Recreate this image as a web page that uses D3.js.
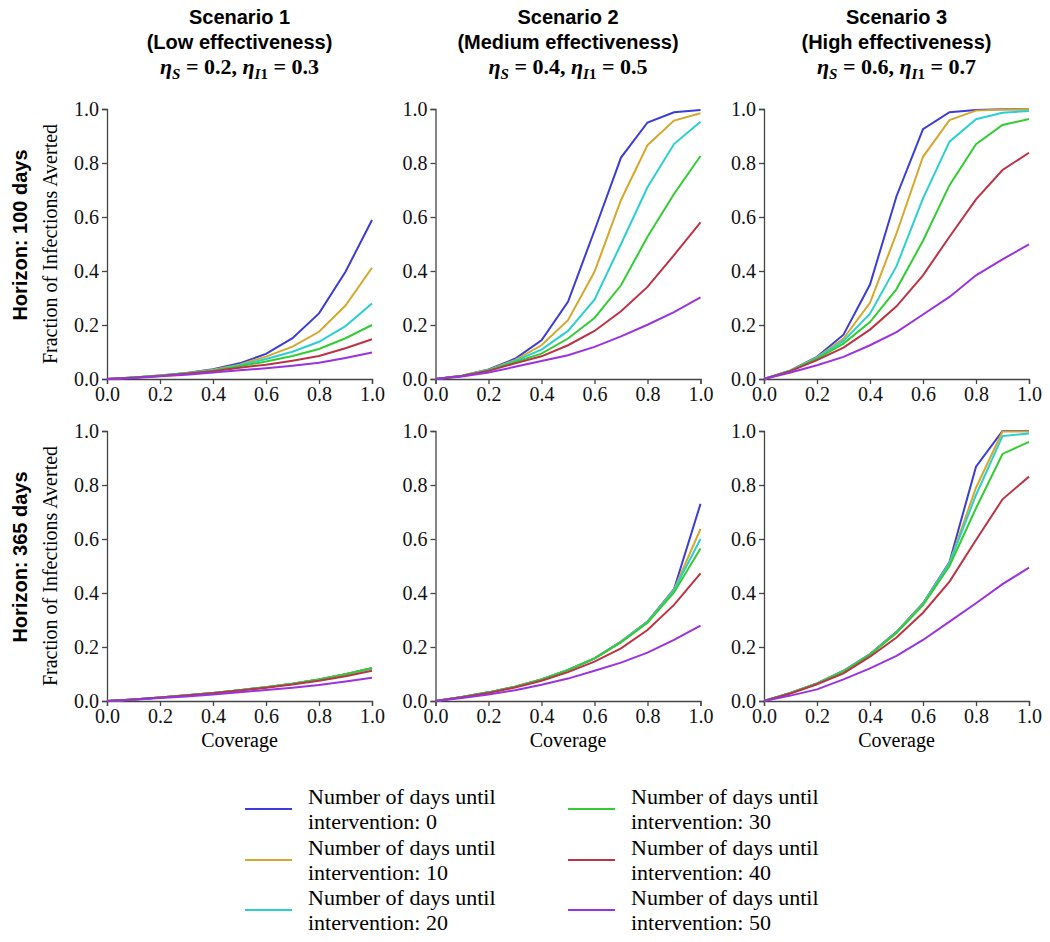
<!DOCTYPE html>
<html>
<head>
<meta charset="utf-8">
<script src="https://cdn.jsdelivr.net/npm/d3@7"></script>
<style>
  body { margin: 0; background: #fff; }
  .tick text { font-family: "Liberation Serif", serif; font-size: 20px; fill: #111; }
  .tick line, .domain { stroke: #444; stroke-width: 1.3; }
</style>
</head>
<body>
<script>
// coverage values on the x axis
var coverage = [0, 0.1, 0.2, 0.3, 0.4, 0.5, 0.6, 0.7, 0.8, 0.9, 1.0];

// days until intervention, one line per value
var delays = [0, 10, 20, 30, 40, 50];
var colors = ['#3c3cd6', '#d4a82c', '#2ccfcf', '#33cc33', '#bb3344', '#9a33dd'];

var scenarioNames = ['Scenario 1', 'Scenario 2', 'Scenario 3'];
var scenarioLevels = ['(Low effectiveness)', '(Medium effectiveness)', '(High effectiveness)'];
var etaS = ['0.2', '0.4', '0.6'];
var etaI1 = ['0.3', '0.5', '0.7'];
var horizons = ['Horizon: 100 days', 'Horizon: 365 days'];

var yTicks = [0, 0.2, 0.4, 0.6, 0.8, 1.0];
var xTicks = [0, 0.2, 0.4, 0.6, 0.8, 1.0];

// fraction of infections averted, horizon 100 days (rows = delays 0..50)
var s1h100 = [
  [0, 0.006, 0.013, 0.022, 0.036, 0.058, 0.093, 0.151, 0.243, 0.397, 0.589],
  [0, 0.006, 0.013, 0.021, 0.034, 0.053, 0.083, 0.120, 0.175, 0.272, 0.412],
  [0, 0.006, 0.012, 0.021, 0.032, 0.050, 0.074, 0.101, 0.138, 0.196, 0.280],
  [0, 0.006, 0.012, 0.020, 0.031, 0.047, 0.065, 0.085, 0.111, 0.151, 0.200],
  [0, 0.005, 0.011, 0.019, 0.029, 0.042, 0.053, 0.068, 0.085, 0.114, 0.147],
  [0, 0.004, 0.010, 0.016, 0.024, 0.032, 0.040, 0.049, 0.060, 0.078, 0.098]
];
var s2h100 = [
  [0, 0.012, 0.035, 0.075, 0.143, 0.286, 0.550, 0.820, 0.950, 0.988, 0.996],
  [0, 0.012, 0.034, 0.070, 0.125, 0.218, 0.397, 0.663, 0.866, 0.957, 0.984],
  [0, 0.012, 0.033, 0.067, 0.109, 0.178, 0.294, 0.500, 0.710, 0.870, 0.953],
  [0, 0.011, 0.032, 0.063, 0.094, 0.150, 0.226, 0.347, 0.527, 0.685, 0.826],
  [0, 0.011, 0.030, 0.058, 0.084, 0.125, 0.178, 0.251, 0.341, 0.459, 0.580],
  [0, 0.009, 0.024, 0.045, 0.067, 0.088, 0.119, 0.158, 0.201, 0.248, 0.302]
];
var s3h100 = [
  [0, 0.032, 0.082, 0.164, 0.350, 0.677, 0.925, 0.988, 0.996, 0.999, 0.999],
  [0, 0.031, 0.080, 0.150, 0.282, 0.539, 0.823, 0.959, 0.994, 0.998, 0.999],
  [0, 0.031, 0.078, 0.141, 0.242, 0.418, 0.669, 0.879, 0.962, 0.986, 0.993],
  [0, 0.030, 0.075, 0.131, 0.211, 0.333, 0.512, 0.718, 0.870, 0.941, 0.963],
  [0, 0.029, 0.070, 0.116, 0.183, 0.269, 0.384, 0.527, 0.665, 0.774, 0.838],
  [0, 0.024, 0.051, 0.082, 0.125, 0.174, 0.239, 0.304, 0.384, 0.443, 0.499]
];

// horizon 365 days
var s1h365 = [
  [0, 0.006, 0.013, 0.021, 0.030, 0.040, 0.051, 0.064, 0.080, 0.099, 0.121],
  [0, 0.006, 0.013, 0.021, 0.030, 0.040, 0.051, 0.064, 0.080, 0.099, 0.121],
  [0, 0.006, 0.013, 0.021, 0.030, 0.040, 0.051, 0.064, 0.080, 0.099, 0.121],
  [0, 0.006, 0.013, 0.021, 0.030, 0.040, 0.051, 0.064, 0.080, 0.099, 0.122],
  [0, 0.006, 0.013, 0.020, 0.029, 0.039, 0.049, 0.061, 0.075, 0.092, 0.112],
  [0, 0.005, 0.011, 0.017, 0.024, 0.032, 0.041, 0.049, 0.059, 0.072, 0.086]
];
var s2h365 = [
  [0, 0.015, 0.032, 0.053, 0.080, 0.115, 0.158, 0.220, 0.294, 0.414, 0.730],
  [0, 0.015, 0.032, 0.053, 0.080, 0.115, 0.158, 0.220, 0.294, 0.412, 0.637],
  [0, 0.015, 0.032, 0.053, 0.080, 0.115, 0.158, 0.219, 0.293, 0.410, 0.600],
  [0, 0.015, 0.032, 0.053, 0.080, 0.114, 0.157, 0.217, 0.290, 0.402, 0.565],
  [0, 0.014, 0.030, 0.050, 0.075, 0.107, 0.146, 0.195, 0.263, 0.356, 0.473],
  [0, 0.011, 0.024, 0.040, 0.060, 0.083, 0.112, 0.142, 0.179, 0.226, 0.279]
];
var s3h365 = [
  [0, 0.030, 0.065, 0.112, 0.174, 0.256, 0.362, 0.515, 0.868, 1.000, 1.000],
  [0, 0.030, 0.065, 0.111, 0.173, 0.255, 0.360, 0.512, 0.790, 0.998, 0.998],
  [0, 0.030, 0.065, 0.111, 0.173, 0.254, 0.359, 0.510, 0.763, 0.981, 0.991],
  [0, 0.030, 0.064, 0.110, 0.171, 0.252, 0.355, 0.500, 0.714, 0.915, 0.960],
  [0, 0.028, 0.062, 0.102, 0.164, 0.235, 0.327, 0.442, 0.596, 0.747, 0.831],
  [0, 0.020, 0.043, 0.080, 0.121, 0.167, 0.226, 0.294, 0.362, 0.433, 0.494]
];

var panels = [
  [s1h100, s2h100, s3h100],
  [s1h365, s2h365, s3h365]
];

// layout (pixels)
var colX = [107, 435.5, 764];
var rowY = [109, 431];
var pw = 265, ph = 270;

var svg = d3.select('body')
  .append('svg')
  .attr('width', 1050)
  .attr('height', 942);

svg.append('rect').attr('width', 1050).attr('height', 942).attr('fill', '#fff');

var x = d3.scaleLinear().domain([0, 1]).range([0, pw]);
var y = d3.scaleLinear().domain([0, 1]).range([ph, 0]);

var line = d3.line()
  .x((d, i) => x(coverage[i]))
  .y(d => y(d));

const drawPanel = (r, c) => {
  var g = svg.append('g')
    .attr('transform', 'translate(' + colX[c] + ',' + rowY[r] + ')');

  g.append('g')
    .attr('transform', 'translate(0,' + ph + ')')
    .call(d3.axisBottom(x).tickValues(xTicks).tickFormat(d3.format('.1f')).tickSizeOuter(0).tickSize(5).tickPadding(3));

  g.append('g')
    .call(d3.axisLeft(y).tickValues(yTicks).tickFormat(d3.format('.1f')).tickSizeOuter(0).tickSize(5).tickPadding(3));

  // draw last series first so the blue line ends up on top like the original
  panels[r][c].forEach((s, k) => {
    g.append('path')
      .datum(s)
      .attr('d', line)
      .attr('fill', 'none')
      .attr('stroke', colors[k])
      .attr('stroke-width', 2);
  });

  if (c == 0) {
    g.append('text')
      .attr('transform', 'translate(-50,' + (ph / 2) + ') rotate(-90)')
      .attr('text-anchor', 'middle')
      .style('font-family', '"Liberation Serif", serif')
      .style('font-size', '20px')
      .text('Fraction of Infections Averted');

    g.append('text')
      .attr('transform', 'translate(-80,' + (ph / 2 - 9) + ') rotate(-90)')
      .attr('text-anchor', 'middle')
      .style('font-family', '"Liberation Sans", Arial, sans-serif')
      .style('font-weight', 'bold')
      .style('font-size', '20px')
      .text(horizons[r]);
  }

  if (r == 1) {
    g.append('text')
      .attr('x', pw / 2)
      .attr('y', ph + 46)
      .attr('text-anchor', 'middle')
      .style('font-family', '"Liberation Serif", serif')
      .style('font-size', '20px')
      .text('Coverage');
  }

  if (r == 0) {
    var t = g.append('g')
      .attr('transform', 'translate(' + (pw / 2) + ',0)')
      .attr('text-anchor', 'middle')
      .style('font-family', '"Liberation Sans", Arial, sans-serif')
      .style('font-weight', 'bold')
      .style('font-size', '20px');
    t.append('text').attr('y', 24 - rowY[0]).text(scenarioNames[c]);
    t.append('text').attr('y', 49 - rowY[0]).text(scenarioLevels[c]);

    var eq = g.append('text')
      .attr('x', pw / 2)
      .attr('y', 74 - rowY[0])
      .attr('text-anchor', 'middle')
      .style('font-family', '"Liberation Serif", serif')
      .style('font-weight', 'bold')
      .style('font-size', '22px');
    eq.append('tspan').style('font-style', 'italic').text('η');
    eq.append('tspan').attr('dy', 5).style('font-style', 'italic').style('font-size', '15px').text('S');
    eq.append('tspan').attr('dy', -5).text(' = ' + etaS[c] + ', ');
    eq.append('tspan').style('font-style', 'italic').text('η');
    eq.append('tspan').attr('dy', 5).style('font-style', 'italic').style('font-size', '15px').text('I');
    eq.append('tspan').style('font-size', '15px').text('1');
    eq.append('tspan').attr('dy', -5).text(' = ' + etaI1[c]);
  }
};

for (var r = 0; r < 2; r++) {
  for (var c = 0; c < 3; c++) {
    drawPanel(r, c);
  }
}

// legend, two columns of three
const drawLegend = () => {
  var legX = [245, 568];
  var legY = [809, 860, 910];
  delays.forEach((d, i) => {
    var col = Math.floor(i / 3), row = i % 3;
    var g = svg.append('g')
      .attr('transform', 'translate(' + legX[col] + ',' + legY[row] + ')');
    g.append('line')
      .attr('x1', 0).attr('x2', 47)
      .attr('stroke', colors[i])
      .attr('stroke-width', 2);
    var txt = g.append('text')
      .style('font-family', '"Liberation Serif", serif')
      .style('font-size', '22px');
    txt.append('tspan').attr('x', 63).attr('y', -5).text('Number of days until');
    txt.append('tspan').attr('x', 63).attr('y', 20).text('intervention:  ' + d);
  });
}

drawLegend();
</script>
</body>
</html>
